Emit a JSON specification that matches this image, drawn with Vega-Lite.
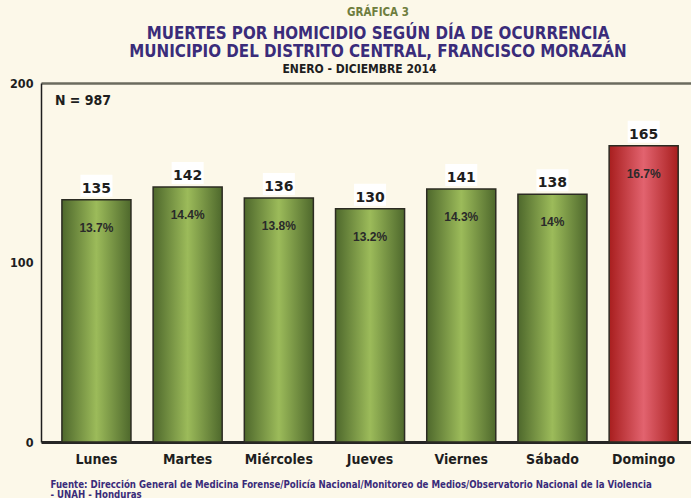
{
  "$schema": "https://vega.github.io/schema/vega-lite/v6.json",
  "width": 650,
  "height": 359,
  "autosize": {"type": "none"},
  "padding": {"left": 41, "top": 83, "right": 0, "bottom": 56},
  "background": "#FCF8E9",
  "config": {"view": {"stroke": null}, "font": "DejaVu Sans Condensed"},
  "title": {
    "text": "GRÁFICA 3",
    "subtitle": ["MUERTES POR HOMICIDIO SEGÚN DÍA DE OCURRENCIA", "MUNICIPIO DEL DISTRITO CENTRAL, FRANCISCO MORAZÁN"],
    "anchor": "middle",
    "frame": "group",
    "dx": 12,
    "font": "DejaVu Sans Condensed",
    "fontSize": 11.5,
    "fontWeight": "bold",
    "color": "#6F7D3E",
    "subtitleFont": "DejaVu Sans Condensed",
    "subtitleFontSize": 16.8,
    "subtitleFontWeight": "bold",
    "subtitleColor": "#3A2C7A",
    "subtitleLineHeight": 18.5,
    "subtitlePadding": 7,
    "offset": 1
  },
  "data": {"values": [
    {"day": "Lunes", "count": 135, "pct": "13.7%"},
    {"day": "Martes", "count": 142, "pct": "14.4%"},
    {"day": "Miércoles", "count": 136, "pct": "13.8%"},
    {"day": "Jueves", "count": 130, "pct": "13.2%"},
    {"day": "Viernes", "count": 141, "pct": "14.3%"},
    {"day": "Sábado", "count": 138, "pct": "14%"},
    {"day": "Domingo", "count": 165, "pct": "16.7%"}
  ]},
  "resolve": {"axis": {"x": "independent"}},
  "layer": [
    {
      "mark": {"type": "bar", "stroke": "#2B2B22", "strokeWidth": 1.5},
      "encoding": {
        "x": {
          "field": "day", "type": "nominal", "sort": null,
          "scale": {"paddingInner": 0.243, "paddingOuter": 0.185, "align": 0.62},
          "axis": {
            "orient": "bottom",
            "labelAngle": 0,
            "labelFont": "DejaVu Sans Condensed",
            "labelFontSize": 14,
            "labelFontWeight": "bold",
            "labelColor": "#1E1E1E",
            "labelPadding": 10,
            "ticks": false,
            "domainColor": "#262626",
            "domainWidth": 3,
            "title": ["Fuente: Dirección General de Medicina Forense/Policía Nacional/Monitoreo de Medios/Observatorio Nacional de la Violencia", "- UNAH - Honduras"],
            "titleFont": "DejaVu Sans Condensed",
            "titleFontSize": 9.6,
            "titleFontWeight": "bold",
            "titleColor": "#3A2C7A",
            "titleAnchor": "start",
            "titleAlign": "left",
            "titleBaseline": "top",
            "titleLineHeight": 10,
            "titleX": 9,
            "titleY": 37.5
          }
        },
        "y": {
          "field": "count", "type": "quantitative",
          "scale": {"domain": [0, 200]},
          "axis": {
            "values": [0, 100, 200],
            "grid": false,
            "ticks": false,
            "labelFont": "DejaVu Sans Condensed",
            "labelFontSize": 12.5,
            "labelFontWeight": "bold",
            "labelColor": "#1E1E1E",
            "labelPadding": 8,
            "domainColor": "#1E1E1E",
            "domainWidth": 1.5,
            "title": null
          }
        },
        "fill": {
          "condition": {
            "test": "datum.day === 'Domingo'",
            "value": {"gradient": "linear", "x1": 0, "y1": 0, "x2": 1, "y2": 0,
              "stops": [{"offset": 0, "color": "#A81E1E"}, {"offset": 0.5, "color": "#E2636F"}, {"offset": 1, "color": "#A81E1E"}]}
          },
          "value": {"gradient": "linear", "x1": 0, "y1": 0, "x2": 1, "y2": 0,
            "stops": [{"offset": 0, "color": "#4E682C"}, {"offset": 0.5, "color": "#9CBB5A"}, {"offset": 1, "color": "#4E682C"}]}
        }
      }
    },
    {
      "mark": {"type": "point", "shape": "M-1.6,-2.5H1.6V-0.3H-1.6Z", "size": 400, "filled": true, "color": "#FFFFFF", "opacity": 1, "strokeWidth": 0},
      "encoding": {
        "x": {
          "field": "day", "type": "nominal", "sort": null,
          "axis": {
            "orient": "top",
            "labels": false,
            "ticks": false,
            "domainColor": "#6B6B5E",
            "domainWidth": 2.5,
            "title": "ENERO - DICIEMBRE 2014",
            "titleFont": "DejaVu Sans Condensed",
            "titleFontSize": 12,
            "titleFontWeight": "bold",
            "titleColor": "#1E1E1E",
            "titleAlign": "center",
            "titleX": 318,
            "titlePadding": 8
          }
        },
        "y": {"field": "count", "type": "quantitative"}
      }
    },
    {
      "mark": {"type": "text", "baseline": "alphabetic", "dy": -7, "font": "DejaVu Sans", "fontSize": 14, "fontWeight": "bold", "color": "#1E1E1E"},
      "encoding": {
        "x": {"field": "day", "type": "nominal", "sort": null, "axis": null},
        "y": {"field": "count", "type": "quantitative"},
        "text": {"field": "count"}
      }
    },
    {
      "mark": {"type": "text", "baseline": "middle", "dy": 28, "font": "Liberation Sans", "fontSize": 12, "fontWeight": "bold", "color": "#2A2A2A"},
      "encoding": {
        "x": {"field": "day", "type": "nominal", "sort": null, "axis": null},
        "y": {"field": "count", "type": "quantitative"},
        "text": {"field": "pct"}
      }
    },
    {
      "data": {"values": [{"label": "N = 987"}]},
      "mark": {"type": "text", "align": "left", "baseline": "alphabetic", "dx": -7, "dy": 22, "font": "DejaVu Sans Condensed", "fontSize": 14, "fontWeight": "bold", "color": "#1E1E1E"},
      "encoding": {
        "x": {"datum": "Lunes", "type": "nominal", "bandPosition": 0, "axis": null},
        "y": {"datum": 200, "type": "quantitative"},
        "text": {"field": "label"}
      }
    }
  ]
}
